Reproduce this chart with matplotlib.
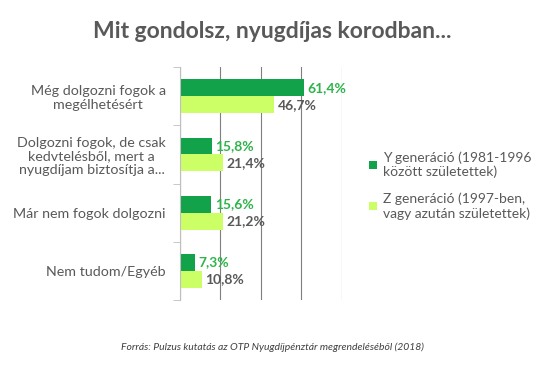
import numpy as np
import matplotlib.pyplot as plt

plt.rcParams['font.family'] = ['Lato', 'DejaVu Sans']

categories = ["Még dolgozni fogok a\nmegélhetésért",
              "Dolgozni fogok, de csak\nkedvtelésből, mert a\nnyugdíjam biztosítja a...",
              "Már nem fogok dolgozni",
              "Nem tudom/Egyéb"]
gen_y = [61.4, 15.8, 15.6, 7.3]
gen_z = [46.7, 21.4, 21.2, 10.8]
labels = ["Y generáció (1981-1996\nközött születettek)",
          "Z generáció (1997-ben,\nvagy azután születettek)"]

dark = '#11a24a'
light = '#ccff66'
grey = '#595959'

fig = plt.figure(figsize=(5.55, 3.75), dpi=100)
ax = fig.add_axes([0.324, 0.2, 0.292, 0.621])

y = np.arange(len(categories))
h = 0.29
b1 = ax.barh(y - h / 2, gen_y, height=h, color=dark, label=labels[0])
b2 = ax.barh(y + h / 2, gen_z, height=h, color=light, label=labels[1])

for yy, v in zip(y, gen_y):
    ax.text(v + 1.8, yy - h / 2, f"{v:.1f}%".replace('.', ','), va='center', ha='left',
            fontsize=10, fontweight='bold', color='#2db34a')
for yy, v in zip(y, gen_z):
    ax.text(v + 1.8, yy + h / 2, f"{v:.1f}%".replace('.', ','), va='center', ha='left',
            fontsize=10, fontweight='bold', color=grey)

ax.set_xlim(0, 80)
ax.set_ylim(3.5, -0.5)
ax.set_xticks([0, 20, 40, 60, 80])
ax.xaxis.grid(True, color='#7f7f7f', linewidth=0.8)
ax.set_axisbelow(True)
ax.tick_params(axis='x', length=0, labelbottom=False)
ax.set_yticks(y)
ax.set_yticklabels(categories, fontsize=10.3, color=grey, multialignment='center',
                   linespacing=1.15)
ax.set_yticks(np.arange(-0.5, 4, 1), minor=True)
ax.tick_params(axis='y', which='major', length=0, pad=10)
ax.tick_params(axis='y', which='minor', length=5, color='#bfbfbf')
for s in ['top', 'right', 'bottom']:
    ax.spines[s].set_visible(False)
ax.spines['left'].set_color('#bfbfbf')

fig.legend(handles=[b1, b2], loc='upper left', bbox_to_anchor=(0.642, 0.63),
           frameon=False, fontsize=10, labelcolor=grey, handlelength=0.6,
           handleheight=0.6, handletextpad=0.4, labelspacing=1.0)

fig.text(0.49, 0.915, "Mit gondolsz, nyugdíjas korodban...", ha='center', va='center',
         fontsize=16.5, fontweight='bold', color=grey)
fig.text(0.49, 0.075, "Forrás: Pulzus kutatás az OTP Nyugdíjpénztár megrendeléséből (2018)",
         ha='center', va='center', fontsize=7.5, style='italic', color='#404040')

fig.savefig('out.png', dpi=100)
